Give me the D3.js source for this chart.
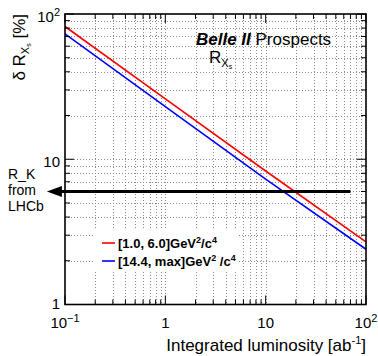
<!DOCTYPE html>
<html>
<head>
<meta charset="utf-8">
<script src="https://cdn.jsdelivr.net/npm/d3@7"></script>
<style>
  body { margin: 0; background: #fff; }
  svg { font-family: "Liberation Sans", Arial, sans-serif; }
</style>
</head>
<body>
<div id="chart"></div>
<script>
// luminosity points (ab^-1) and relative uncertainty (%)
var lumi      = [0.1, 1, 10, 100];
var lowQ2     = [82, 26, 8.3, 2.7];   // [1.0, 6.0] GeV^2/c^4
var highQ2    = [73, 23, 7.3, 2.4];   // [14.4, max] GeV^2/c^4
var seriesNames = ["[1.0, 6.0]GeV", "[14.4, max]GeV"];

// R_K from LHCb reference line
var rkValue = 6.0;
var rkFrom  = 70;
var rkTo    = 0.066;

var xTickLabels = [{v: 0.1, b: "10", e: "\u22121"}, {v: 1, b: "1", e: ""}, {v: 10, b: "10", e: ""}, {v: 100, b: "10", e: "2"}];
var yTickLabels = [{v: 1, b: "1", e: ""}, {v: 10, b: "10", e: ""}, {v: 100, b: "10", e: "2"}];

var W = 378, H = 356;
var margin = {top: 14, right: 12, bottom: 51.5, left: 65};
var width = W - margin.left - margin.right,
    height = H - margin.top - margin.bottom;

var svg = d3.select("#chart").append("svg")
  .attr("width", W)
  .attr("height", H);

var x = d3.scaleLog().domain([0.1, 100]).range([margin.left, margin.left + width]);
var y = d3.scaleLog().domain([1, 100]).range([margin.top + height, margin.top]);

function isMajor(v) {
  var l = Math.log10(v);
  return Math.abs(l - Math.round(l)) < 1e-9;
}

// grid
var grid = svg.append("g").attr("class", "grid")
  .attr("stroke", "#8a8a8a").attr("stroke-width", 1).attr("stroke-dasharray", "1,2");
x.ticks().forEach(function(v){
  if (v <= 0.1 || v >= 100) return;
  grid.append("line")
    .attr("x1", Math.round(x(v)) + 0.5).attr("x2", Math.round(x(v)) + 0.5)
    .attr("y1", margin.top).attr("y2", margin.top + height);
});
y.ticks().forEach(function(v){
  if (v <= 1 || v >= 100) return;
  grid.append("line")
    .attr("y1", Math.round(y(v)) + 0.5).attr("y2", Math.round(y(v)) + 0.5)
    .attr("x1", margin.left).attr("x2", margin.left + width);
});

// legend box (white, hides the grid)
svg.append("rect")
  .attr("x", 94).attr("y", 230).attr("width", 144).attr("height", 42)
  .attr("fill", "#fff");

// series lines
var line = d3.line()
  .x(function(d){ return x(d[0]); })
  .y(function(d){ return y(d[1]); });

var series = [
  {vals: lowQ2, color: "#ff0000"},
  {vals: highQ2, color: "#0000ff"}
];
series.forEach(function(s){
  svg.append("path")
    .datum(lumi.map(function(l, i){ return [l, s.vals[i]]; }))
    .attr("fill", "none")
    .attr("stroke", s.color)
    .attr("stroke-width", 1.6)
    .attr("d", line);
});

// frame
svg.append("rect")
  .attr("x", margin.left).attr("y", margin.top)
  .attr("width", width).attr("height", height)
  .attr("fill", "none").attr("stroke", "#000").attr("stroke-width", 1.6);

// ticks on all four sides, pointing inward
var ticks = svg.append("g").attr("stroke", "#000").attr("stroke-width", 1);
x.ticks().forEach(function(v){
  var len = isMajor(v) ? 9 : 5, px = x(v);
  ticks.append("line").attr("x1", px).attr("x2", px)
    .attr("y1", margin.top + height).attr("y2", margin.top + height - len);
  ticks.append("line").attr("x1", px).attr("x2", px)
    .attr("y1", margin.top).attr("y2", margin.top + len);
});
y.ticks().forEach(function(v){
  var len = isMajor(v) ? 9 : 5, py = y(v);
  ticks.append("line").attr("y1", py).attr("y2", py)
    .attr("x1", margin.left).attr("x2", margin.left + len);
  ticks.append("line").attr("y1", py).attr("y2", py)
    .attr("x1", margin.left + width).attr("x2", margin.left + width - len);
});

// tick labels
xTickLabels.forEach(function(t){
  var txt = svg.append("text")
    .attr("x", x(t.v)).attr("y", 328)
    .attr("text-anchor", "middle")
    .attr("font-size", 15);
  txt.append("tspan").text(t.b);
  if (t.e) txt.append("tspan").attr("dy", -6).attr("font-size", 11).text(t.e);
});
yTickLabels.forEach(function(t){
  var off = t.v === 1 ? 4.5 : 7.5;
  var txt = svg.append("text")
    .attr("x", 60).attr("y", y(t.v) + off)
    .attr("text-anchor", "end")
    .attr("font-size", 15);
  txt.append("tspan").text(t.b);
  if (t.e) txt.append("tspan").attr("dy", -6).attr("font-size", 11).text(t.e);
});

// axis titles
var xt = svg.append("text")
  .attr("x", margin.left + width).attr("y", 351)
  .attr("text-anchor", "end").attr("font-size", 17);
xt.append("tspan").text("Integrated luminosity [ab");
xt.append("tspan").attr("dy", -7).attr("font-size", 11).text("-1");
xt.append("tspan").attr("dy", 7).text("]");

var yt = svg.append("text")
  .attr("transform", "translate(25," + margin.top + ") rotate(-90)")
  .attr("text-anchor", "end").attr("font-size", 17);
yt.append("tspan").text("\u03b4 R");
yt.append("tspan").attr("dy", 4).attr("font-size", 11).text("X");
yt.append("tspan").attr("dy", 2).attr("font-size", 7).text("s");
yt.append("tspan").attr("dy", -6).text(" [%]");

// title
var title = svg.append("text").attr("x", 196).attr("y", 45).attr("font-size", 17);
title.append("tspan").attr("font-weight", "bold").attr("font-style", "italic").text("Belle II");
title.append("tspan").text(" Prospects");

var sub = svg.append("text").attr("x", 209).attr("y", 63).attr("font-size", 17);
sub.append("tspan").text("R");
sub.append("tspan").attr("dy", 4).attr("font-size", 11).text("X");
sub.append("tspan").attr("dy", 2).attr("font-size", 7).text("s");

// R_K arrow
var ya = y(rkValue);
svg.append("line")
  .attr("x1", x(rkFrom)).attr("x2", x(rkTo) + 12)
  .attr("y1", ya).attr("y2", ya)
  .attr("stroke", "#000").attr("stroke-width", 3);
svg.append("path")
  .attr("d", "M" + x(rkTo) + "," + ya + "L" + (x(rkTo) + 15) + "," + (ya - 5.5) + "L" + (x(rkTo) + 15) + "," + (ya + 5.5) + "Z")
  .attr("fill", "#000");

var rkText = ["R_K", "from", "LHCb"];
rkText.forEach(function(s, i){
  svg.append("text").attr("x", 8).attr("y", 179 + i * 16)
    .attr("font-size", 14).text(s);
});

// legend
series.forEach(function(s, i){
  var ly = 243 + i * 18;
  svg.append("line")
    .attr("x1", 102).attr("x2", 115).attr("y1", ly).attr("y2", ly)
    .attr("stroke", s.color).attr("stroke-width", 1.6);
  var t = svg.append("text").attr("x", 118).attr("y", ly + 5)
    .attr("font-size", 13).attr("font-weight", "bold");
  t.append("tspan").text(seriesNames[i]);
  t.append("tspan").attr("dy", -5).attr("font-size", 9).text("2");
  t.append("tspan").attr("dy", 5).text(i === 0 ? "/c" : " /c");
  t.append("tspan").attr("dy", -5).attr("font-size", 9).text("4");
});
</script>
</body>
</html>
